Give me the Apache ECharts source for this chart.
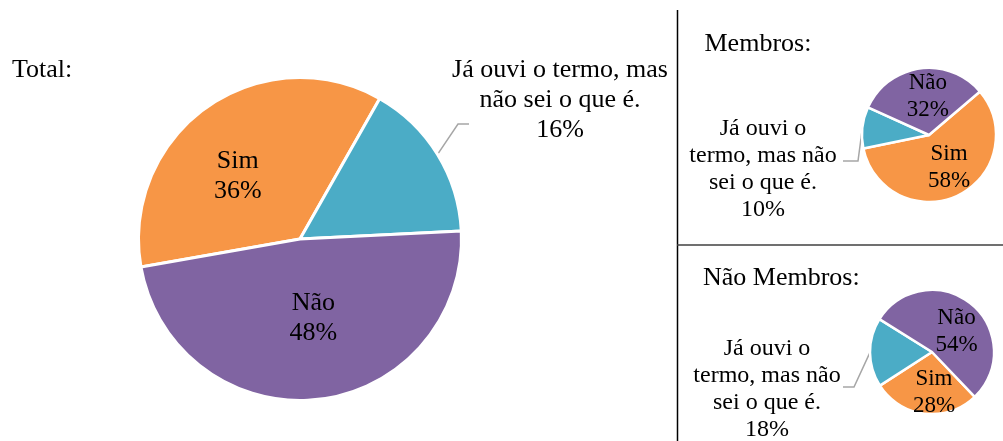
<!DOCTYPE html>
<html><head><meta charset="utf-8">
<script src="https://cdn.jsdelivr.net/npm/echarts@6/dist/echarts.min.js"></script>
<style>html,body{margin:0;padding:0;background:#fff}#c{width:1003px;height:441px}</style>
</head><body><div id="c"></div>
<script>
// ---- data ----
const categories = ['Sim', 'Já ouvi o termo, mas não sei o que é.', 'Não'];
const totalValues = [36, 16, 48];
const membrosValues = [58, 10, 32];
const naoMembrosValues = [28, 18, 54];
const panelTitles = ['Total:', 'Membros:', 'Não Membros:'];

// ---- styling / layout ----
const colors = ['#F79646', '#4BACC6', '#8064A2'];
const FONT = '"Liberation Serif", "Times New Roman", serif';

const panels = [
  { values: totalValues, center: [300, 239], radius: 161.5, startAngle: 190, bw: 3,
    inFont: 26, inLH: 30, outFont: 26, outLH: 30,
    wrap: s => s.replace('mas ', 'mas\n'),
    offsets: [[-14, 6], null, [4, -4]],
    out: { x: 560, y: 100, knee: [458, 124], end: [469, 124] } },
  { values: membrosValues, center: [929, 135], radius: 67, startAngle: 40.4, bw: 2.5,
    inFont: 23, inLH: 27, outFont: 24, outLH: 27,
    wrap: s => s.replace('o termo', 'o\ntermo').replace('não sei', 'não\nsei'),
    offsets: [[4, 0], null, [4, -2]],
    out: { x: 763, y: 169, knee: [858, 161], end: [843, 161] } },
  { values: naoMembrosValues, center: [932, 352], radius: 62, startAngle: 313.6, bw: 2.5,
    inFont: 23, inLH: 27, outFont: 24, outLH: 27,
    wrap: s => s.replace('o termo', 'o\ntermo').replace('não sei', 'não\nsei'),
    offsets: [[6, 7], null, [3, 6]],
    out: { x: 767, y: 389, knee: [854, 387], end: [843, 387] } }
];

const series = panels.map(p => ({
  type: 'pie',
  center: p.center,
  radius: p.radius,
  startAngle: p.startAngle,
  clockwise: true,
  avoidLabelOverlap: false,
  silent: true,
  animation: false,
  itemStyle: { borderColor: '#ffffff', borderWidth: p.bw },
  emphasis: { disabled: true },
  data: categories.map((name, i) => {
    const isOut = i === 1;
    return {
      name: name,
      value: p.values[i],
      itemStyle: { color: colors[i] },
      label: isOut ? {
        show: true, position: 'outside',
        formatter: prm => p.wrap(prm.name) + '\n' + prm.value + '%',
        fontFamily: FONT, fontSize: p.outFont, lineHeight: p.outLH, color: '#000',
        align: 'center'
      } : {
        show: true, position: 'inside',
        formatter: prm => prm.name + '\n' + prm.value + '%',
        fontFamily: FONT, fontSize: p.inFont, lineHeight: p.inLH, color: '#000',
        offset: p.offsets[i]
      },
      labelLine: isOut ? { show: true, lineStyle: { color: '#A6A6A6', width: 1.5 } } : { show: false }
    };
  }),
  labelLayout: function (params) {
    if (params.dataIndex !== 1) return {};
    const start = (params.labelLinePoints && params.labelLinePoints[0]) || p.out.knee;
    return {
      x: p.out.x, y: p.out.y, align: 'center', verticalAlign: 'middle',
      labelLinePoints: [start, p.out.knee, p.out.end]
    };
  }
}));

const titleGraphics = [
  { x: 12, y: 70 }, { x: 704.5, y: 44 }, { x: 703, y: 278 }
].map((pos, i) => ({
  type: 'text', silent: true,
  style: { text: panelTitles[i], x: pos.x, y: pos.y, font: '26px ' + FONT, fill: '#000',
           textAlign: 'left', textVerticalAlign: 'middle', verticalAlign: 'middle' }
}));

const chart = echarts.init(document.getElementById('c'), null, { renderer: 'canvas' });
chart.setOption({
  backgroundColor: '#ffffff',
  animation: false,
  series: series,
  graphic: titleGraphics.concat([
    { type: 'line', silent: true, shape: { x1: 677.5, y1: 10, x2: 677.5, y2: 441 },
      style: { stroke: '#000', lineWidth: 1.5 } },
    { type: 'line', silent: true, shape: { x1: 677, y1: 245, x2: 1003, y2: 245 },
      style: { stroke: '#404040', lineWidth: 1.5 } }
  ])
});
</script></body></html>
